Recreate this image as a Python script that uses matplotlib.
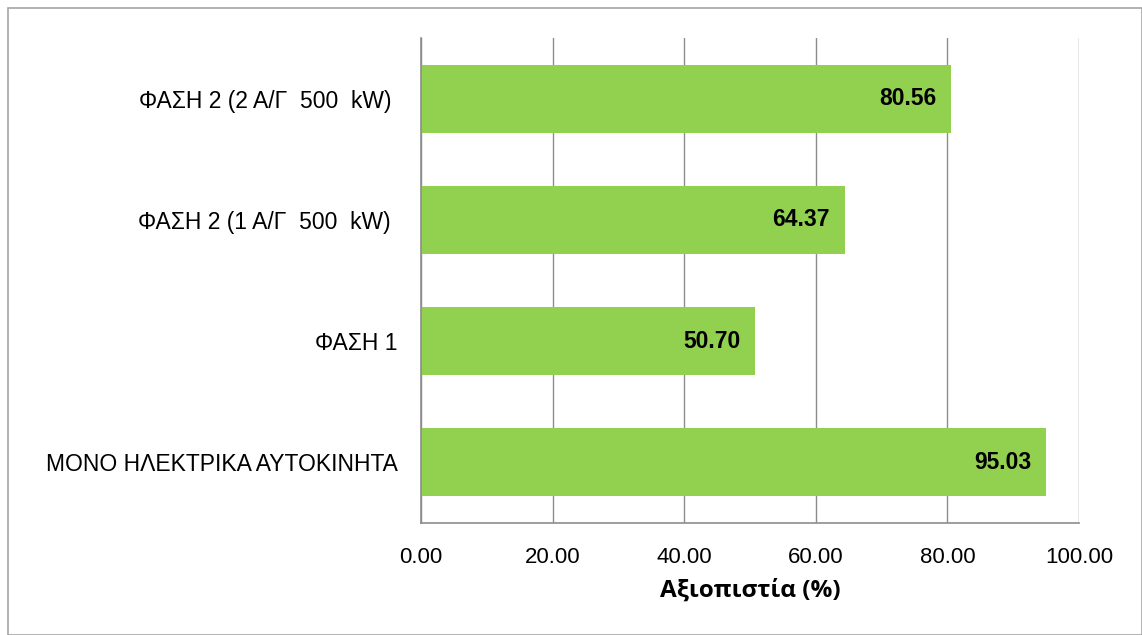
import matplotlib
matplotlib.use("Agg")
import matplotlib.pyplot as plt
from matplotlib.patches import Rectangle

plt.rcParams['font.family'] = ['Liberation Sans', 'DejaVu Sans']

categories = ["ΜΟΝΟ ΗΛΕΚΤΡΙΚΑ ΑΥΤΟΚΙΝΗΤΑ", "ΦΑΣΗ 1",
              "ΦΑΣΗ 2 (1 Α/Γ  500  kW) ", "ΦΑΣΗ 2 (2 Α/Γ  500  kW) "]
reliability = [95.03, 50.70, 64.37, 80.56]
xticks = [0, 20, 40, 60, 80, 100]

W, H = 1142, 635
fig = plt.figure(figsize=(W / 100, H / 100), dpi=100)

# outer chart frame
fig.patches.append(Rectangle((8 / W, 0), (W - 8) / W, (H - 8) / H,
                             transform=fig.transFigure, fill=False,
                             edgecolor="#a6a6a6", linewidth=1.2))

left, right, top, bottom = 421, 1079, 38, 523
ax = fig.add_axes([left / W, 1 - bottom / H, (right - left) / W, (bottom - top) / H])

grid_col = "#8c8c8c"
ypos = list(range(len(categories)))
ax.barh(ypos, reliability, height=0.56, color="#92d050", zorder=2)

for y, v in zip(ypos, reliability):
    ax.text(v - 2.2, y, f"{v:.2f}", ha="right", va="center",
            fontsize=16.5, fontweight="bold", color="black", zorder=3)

ax.set_xlim(0, 100)
ax.set_ylim(-0.5, len(categories) - 0.5)
ax.set_xticks(xticks)
ax.set_xticklabels([f"{t:.2f}" for t in xticks], fontsize=16)
ax.set_yticks(ypos)
ax.set_yticklabels(categories, fontsize=16.5)
ax.tick_params(axis="both", length=0)
ax.tick_params(axis="y", pad=17)
ax.tick_params(axis="x", pad=17)

ax.grid(axis="x", color=grid_col, linewidth=1, zorder=0)
for s in ["top", "right"]:
    ax.spines[s].set_visible(False)
for s in ["left", "bottom"]:
    ax.spines[s].set_color(grid_col)
    ax.spines[s].set_linewidth(1.2)

ax.set_xlabel("Αξιοπιστία (%)", fontsize=17.5, fontweight="bold",
              family=["Open Sans", "DejaVu Sans"], labelpad=8)

fig.savefig("out.png", dpi=100)
